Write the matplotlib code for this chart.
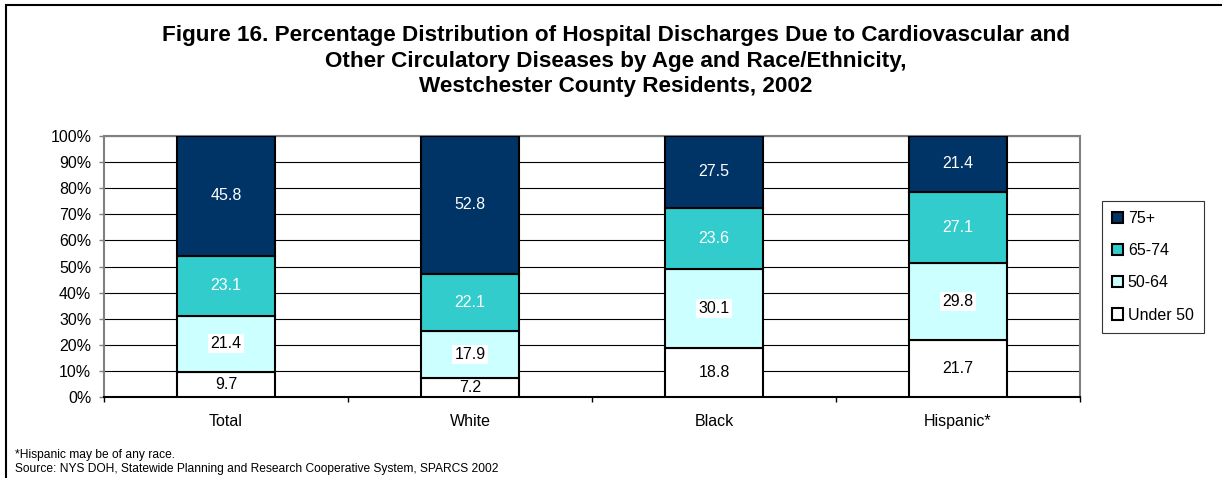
import matplotlib
matplotlib.use("Agg")
import matplotlib.pyplot as plt
from matplotlib.patches import Patch, Rectangle
import numpy as np

## Data
groups = ["Total", "White", "Black", "Hispanic*"]
age_labels = ["Under 50", "50-64", "65-74", "75+"]
under50 = [9.7, 7.2, 18.8, 21.7]
age50_64 = [21.4, 17.9, 30.1, 29.8]
age65_74 = [23.1, 22.1, 23.6, 27.1]
age75 = [45.8, 52.8, 27.5, 21.4]
yticks = [0, 10, 20, 30, 40, 50, 60, 70, 80, 90, 100]

colours = ["#FFFFFF", "#CCFFFF", "#33CCCC", "#003366"]
text_colours = ["black", "black", "white", "white"]

plt.rcParams["font.family"] = ["Liberation Sans", "DejaVu Sans"]
fs = 11.5

fig = plt.figure(figsize=(12.22, 4.78), dpi=100)
ax = fig.add_axes([104 / 1222, 1 - 397 / 478, (1080 - 104) / 1222, (397 - 136) / 478])

x = np.arange(len(groups))
series = [under50, age50_64, age65_74, age75]
bottom = np.zeros(len(groups))
for vals, col, tcol in zip(series, colours, text_colours):
    vals = np.array(vals)
    ax.bar(x, vals, bottom=bottom, width=0.4, color=col, edgecolor="black",
           linewidth=1.5, zorder=3)
    for xi, b, v in zip(x, bottom, vals):
        box = None
        if col == "#CCFFFF":
            box = dict(facecolor="white", edgecolor="none", pad=1.5)
        ax.text(xi, b + v / 2, f"{v:.1f}", ha="center", va="center", fontsize=fs,
                color=tcol, zorder=4, bbox=box)
    bottom += vals

ax.set_xlim(-0.5, len(groups) - 0.5)
ax.set_ylim(0, 100)
ax.set_yticks(yticks)
ax.set_yticklabels([f"{t}%" for t in yticks], fontsize=fs)
ax.set_xticks(x)
ax.set_xticklabels(groups, fontsize=fs)
ax.tick_params(axis="x", length=0, pad=12)
ax.tick_params(axis="y", length=3.6, width=1, color="#808080", pad=5.5)
# category boundary ticks, Excel style
ax.set_xticks(np.arange(-0.5, len(groups), 1.0), minor=True)
ax.tick_params(axis="x", which="minor", length=3.6, width=1, color="black")
ax.yaxis.grid(True, color="black", linewidth=0.8, zorder=0)
ax.set_axisbelow(True)
for side in ["left", "top", "right"]:
    ax.spines[side].set_color("#808080")
    ax.spines[side].set_linewidth(1.5)
ax.spines["bottom"].set_color("black")
ax.spines["bottom"].set_linewidth(1.5)

handles = [Patch(facecolor=c, edgecolor="black", linewidth=1.5, label=l)
           for c, l in zip(colours, age_labels)][::-1]
leg = fig.legend(handles=handles, loc="upper left",
                 bbox_to_anchor=(1102 / 1222, 1 - 201 / 478), fontsize=fs,
                 frameon=True, fancybox=False, edgecolor="black",
                 handlelength=0.7, handleheight=0.7, handletextpad=0.3,
                 labelspacing=1.08, borderpad=0.62, borderaxespad=0)
leg.get_frame().set_linewidth(0.8)

fig.text(616 / 1222, 1 - 61 / 478,
         "Figure 16. Percentage Distribution of Hospital Discharges Due to Cardiovascular and\n"
         "Other Circulatory Diseases by Age and Race/Ethnicity,\n"
         "Westchester County Residents, 2002",
         ha="center", va="center", fontsize=16.2, fontweight="bold", linespacing=1.26)

fig.text(15 / 1222, 1 - 455 / 478, "*Hispanic may be of any race.", fontsize=8.65, va="center")
fig.text(15 / 1222, 1 - 469 / 478,
         "Source: NYS DOH, Statewide Planning and Research Cooperative System, SPARCS 2002",
         fontsize=8.65, va="center")

# outer frame: only left and top edges fall inside the picture
fig.patches.append(Rectangle((6 / 1222, -0.05), 1.1, 1.05 - 5 / 478,
                             transform=fig.transFigure, fill=False,
                             edgecolor="black", linewidth=1.5))

fig.savefig("out.png", dpi=100)
